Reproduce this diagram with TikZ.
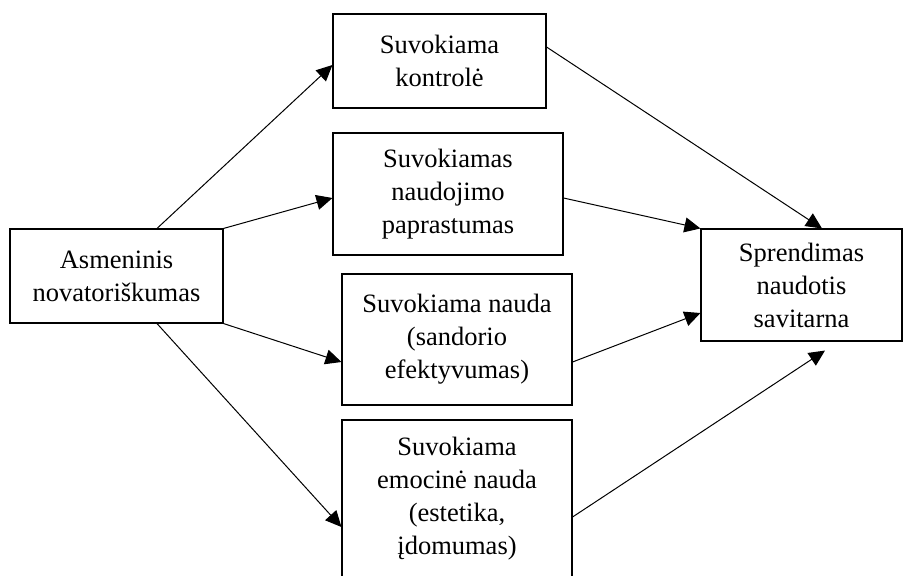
\documentclass[tikz,border=0pt]{standalone}
\usepackage{fontspec}
\setmainfont{Liberation Serif}
\usepackage{tikz}
\usetikzlibrary{arrows.meta, positioning}

\begin{document}
\begin{tikzpicture}[
    x=1pt, y=-1pt,
    factorblock/.style={rectangle, draw, line width=1.1pt, inner sep=0pt, font=\fontsize{26.5}{33}\selectfont, align=center},
    arrow/.style={-{Triangle[length=16pt, width=15pt]}, line width=1pt}
]
\useasboundingbox (0,0) rectangle (906,576);

% Define the blocks at pixel-like coordinates
\node[factorblock, minimum width=213pt, minimum height=94pt] (asm) at (116.5,276) {Asmeninis\\novatoriškumas};
\node[factorblock, minimum width=213pt, minimum height=94pt] (kontr) at (439.5,61) {Suvokiama\\kontrolė};
\node[factorblock, minimum width=230pt, minimum height=122pt] (papr) at (448,194) {Suvokiamas\\naudojimo\\paprastumas};
\node[factorblock, minimum width=230pt, minimum height=131pt] (naud) at (457,339.5) {Suvokiama nauda\\(sandorio\\efektyvumas)};
\node[factorblock, minimum width=230pt, minimum height=158pt] (emoc) at (457,499) {Suvokiama\\emocinė nauda\\(estetika,\\įdomumas)};
\node[factorblock, minimum width=201pt, minimum height=112pt] (spr) at (801.5,285) {Sprendimas\\naudotis\\savitarna};

% Draw arrows from the left block
\draw[arrow] ([xshift=40.5pt]asm.north) -- ([yshift=-4pt]kontr.west);
\draw[arrow] (asm.north east) -- ([yshift=-4pt]papr.west);
\draw[arrow] (asm.south east) -- ([yshift=-22.5pt]naud.west);
\draw[arrow] ([xshift=40.5pt]asm.south) -- ([yshift=-28pt]emoc.west);

% Draw arrows into the decision block
\draw[arrow] ([yshift=14pt]kontr.east) -- ([xshift=20.5pt]spr.north);
\draw[arrow] ([yshift=-4pt]papr.east) -- (spr.north west);
\draw[arrow] ([yshift=-22.5pt]naud.east) -- ([yshift=-28pt]spr.west);
\draw[arrow] ([yshift=-18pt]emoc.east) -- ([xshift=23.5pt, yshift=-9pt]spr.south);

\end{tikzpicture}
\end{document}
